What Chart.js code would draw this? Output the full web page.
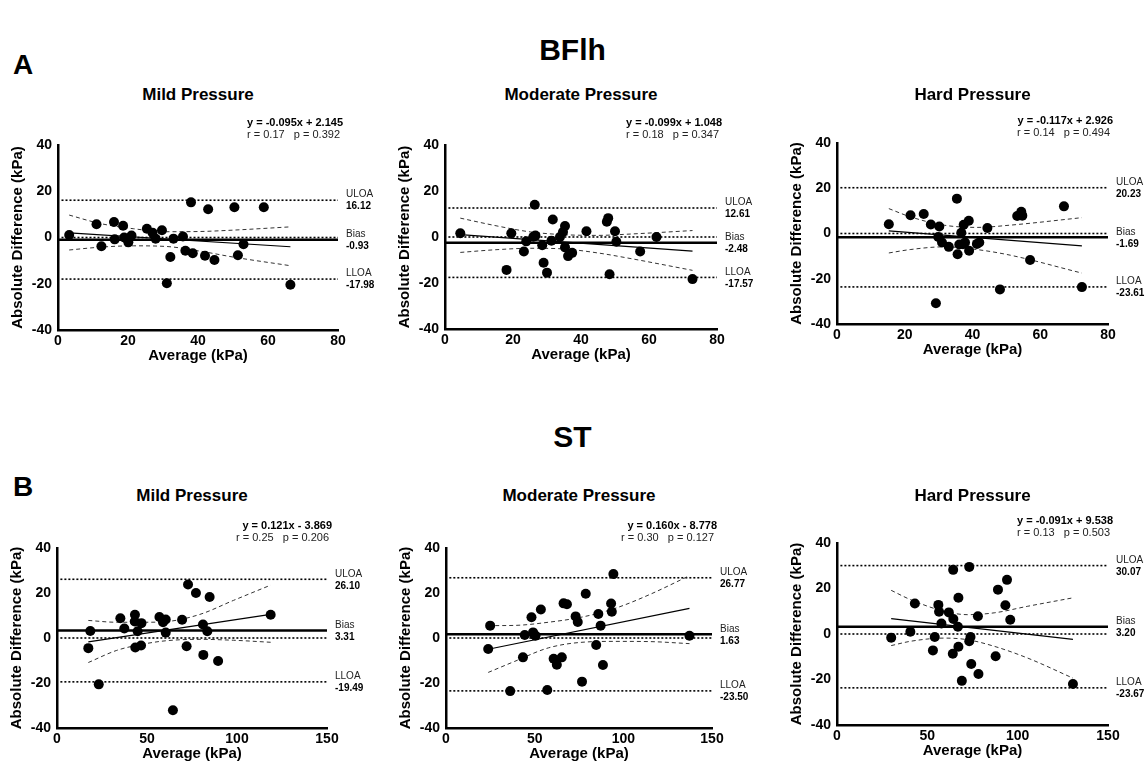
<!DOCTYPE html>
<html>
<head>
<meta charset="utf-8">
<script src="https://cdn.jsdelivr.net/npm/chart.js@4.4.1/dist/chart.umd.min.js"></script>
<style>
  html, body { margin: 0; padding: 0; background: #fff; }
  body { width: 1145px; height: 773px; position: relative; overflow: hidden;
         font-family: 'Liberation Sans', Arial, Helvetica, sans-serif; color: #000; }
  .lbl { position: absolute; font-weight: bold; line-height: 1; white-space: nowrap; }
  canvas { position: absolute; }
</style>
</head>
<body>
<div class="lbl" style="left:0;width:1145px;text-align:center;top:35px;font-size:30px">BFlh</div>
<div class="lbl" style="left:13px;top:51px;font-size:28px">A</div>
<div class="lbl" style="left:0;width:1145px;text-align:center;top:422px;font-size:30px">ST</div>
<div class="lbl" style="left:13px;top:473px;font-size:28px">B</div>
<script>
const FONT = "'Liberation Sans', Arial, Helvetica, sans-serif";

// ---- data ----
const panelTitles = ['Mild Pressure', 'Moderate Pressure', 'Hard Pressure'];
const equations = ['y = -0.095x + 2.145', 'y = -0.099x + 1.048', 'y = -0.117x + 2.926',
                   'y = 0.121x - 3.869', 'y = 0.160x - 8.778', 'y = -0.091x + 9.538'];
const stats = ['r = 0.17   p = 0.392', 'r = 0.18   p = 0.347', 'r = 0.14   p = 0.494',
               'r = 0.25   p = 0.206', 'r = 0.30   p = 0.127', 'r = 0.13   p = 0.503'];
const uloa = [16.12, 12.61, 20.23, 26.10, 26.77, 30.07];
const bias = [-0.93, -2.48, -1.69, 3.31, 1.63, 3.20];
const lloa = [-17.98, -17.57, -23.61, -19.49, -23.50, -23.67];
const xMax = [80, 80, 80, 150, 150, 150];
const xStep = [20, 20, 20, 50, 50, 50];
const yMin = -40, yMax = 40, yStep = 20;

// BFlh - mild
const bflhMildAvg = [3.2, 11.0, 12.4, 16.0, 16.2, 18.6, 18.9, 20.1, 21.0, 25.4, 27.0, 27.9, 29.7, 33.0,
                     32.1, 31.1, 35.7, 36.4, 38.0, 38.5, 42.0, 42.9, 44.7, 50.4, 51.4, 53.0, 58.8, 66.4];
const bflhMildDiff = [1.1, 5.7, -3.8, 6.7, -0.8, 5.1, 0.0, -2.1, 0.9, 3.8, 2.1, -0.5, 3.1, -0.5,
                      -8.4, -19.8, 0.4, -5.7, 15.2, -6.8, -7.9, 12.2, -9.7, 13.1, -7.7, -2.9, 13.1, -20.4];
const bflhMildCiX = [3.2, 11.9, 21.5, 31.1, 40.6, 50.2, 66.4];
const bflhMildCiUp = [9.7, 6.1, 3.8, 2.5, 2.6, 3.2, 4.6];
const bflhMildCiLo = [-5.4, -4.2, -3.6, -3.9, -5.9, -8.5, -12.2];
const bflhMildRegX = [3.2, 66.4];
const bflhMildRegY = [2.0, -4.0];

// BFlh - moderate
const bflhModAvg = [4.5, 19.5, 18.1, 23.9, 23.2, 26.0, 26.6, 26.4, 28.6, 29.0, 30.0, 31.3, 31.7, 33.8,
                    34.7, 35.3, 35.3, 36.2, 37.4, 41.6, 47.6, 48.0, 48.4, 50.0, 50.4, 57.4, 62.2, 72.8];
const bflhModDiff = [1.6, 1.6, -14.3, -1.9, -6.3, 0.1, 0.6, 14.0, -3.6, -11.2, -15.5, -1.6, 7.6, 0.0,
                     2.2, 4.8, -4.5, -8.3, -6.9, 2.5, 6.6, 8.2, -16.2, 2.5, -2.1, -6.3, 0.0, -18.3];
const bflhModCiX = [4.5, 15.3, 25.2, 35.0, 44.8, 54.7, 72.8];
const bflhModCiUp = [8.2, 4.8, 2.2, 1.0, 0.7, 1.3, 2.8];
const bflhModCiLo = [-6.7, -5.5, -4.9, -5.2, -6.9, -9.4, -14.5];
const bflhModRegX = [4.5, 72.8];
const bflhModRegY = [1.0, -6.1];

// BFlh - hard
const bflhHardAvg = [15.3, 21.7, 25.6, 27.7, 30.2, 29.9, 29.2, 31.0, 33.0, 35.4, 35.6, 36.1, 36.7, 37.2,
                     37.4, 37.8, 38.9, 39.0, 41.3, 42.0, 44.4, 48.1, 53.2, 54.4, 54.7, 57.0, 67.0, 72.3];
const bflhHardDiff = [4.1, 8.1, 8.6, 4.0, 3.1, -1.5, -30.8, -4.0, -5.9, 15.4, -9.2, -4.9, 0.3, -4.7,
                      3.9, -4.0, 5.6, -7.6, -4.6, -4.0, 2.4, -24.7, 7.7, 9.6, 7.9, -11.7, 12.0, -23.7];
const bflhHardCiX = [15.3, 21.6, 31.5, 41.3, 51.2, 72.3];
const bflhHardCiUp = [11.0, 7.4, 3.7, 2.7, 3.7, 7.0];
const bflhHardCiLo = [-8.6, -7.1, -5.9, -7.1, -9.6, -17.5];
const bflhHardRegX = [15.3, 72.3];
const bflhHardRegY = [1.2, -5.5];

// ST - mild
const stMildAvg = [17.4, 18.5, 23.2, 35.2, 37.4, 43.3, 43.2, 43.5, 44.8, 46.9, 46.7, 56.9, 58.9,
                   60.4, 60.4, 64.4, 69.5, 72.0, 72.8, 77.2, 81.1, 81.3, 83.5, 84.8, 89.5, 118.7];
const stMildDiff = [-4.5, 3.1, -20.6, 8.8, 4.2, 10.3, 7.3, -4.2, 3.0, 6.6, -3.3, 9.3, 7.0,
                    8.2, 2.4, -32.1, 8.1, -3.7, 23.8, 20.0, 6.0, -7.5, 3.0, 18.2, -10.2, 10.3];
const stMildCiX = [17.4, 33.2, 48.0, 60.9, 79.4, 98.0, 118.7];
const stMildCiUp = [7.8, 7.0, 7.0, 7.3, 10.5, 16.7, 23.5];
const stMildCiLo = [-10.9, -5.5, -2.7, -1.2, -0.6, -1.0, -1.9];
const stMildRegX = [17.4, 118.7];
const stMildRegY = [-1.7, 10.5];

// ST - moderate
const stModAvg = [23.8, 24.9, 36.2, 43.4, 44.4, 48.2, 49.1, 49.7, 50.5, 53.5, 57.1, 60.7, 62.5, 65.3,
                  66.3, 68.2, 73.1, 74.3, 76.7, 78.8, 84.7, 85.9, 87.2, 88.5, 93.1, 93.5, 94.4, 137.3];
const stModDiff = [-4.9, 5.5, -23.6, -8.6, 1.3, 9.2, 2.5, 1.5, 1.0, 12.7, -23.1, -9.2, -11.9, -8.6,
                   15.4, 15.0, 9.6, 7.1, -19.4, 19.7, -3.1, 10.7, 5.5, -12.0, 15.3, 11.7, 28.4, 1.0];
const stModCiX = [23.8, 38.7, 57.7, 76.7, 95.8, 114.8, 137.3];
const stModCiUp = [5.5, 5.6, 7.0, 9.3, 13.3, 19.3, 27.7];
const stModCiLo = [-15.3, -10.4, -4.4, -1.9, -1.5, -1.6, -2.5];
const stModRegX = [23.8, 137.3];
const stModRegY = [-5.0, 13.2];

// ST - hard
const stHardAvg = [30.0, 40.6, 43.1, 53.1, 54.1, 56.1, 56.5, 57.8, 61.9, 64.1, 64.3, 64.4, 66.9, 67.2,
                   67.2, 69.1, 73.2, 73.2, 73.9, 74.3, 78.0, 78.3, 87.8, 89.1, 93.2, 94.1, 95.9, 130.6];
const stHardDiff = [-1.6, 1.0, 13.4, -7.2, -1.3, 12.8, 9.8, 4.6, 9.5, -8.7, 28.2, 6.6, 3.2, -5.6,
                    15.9, -20.6, 29.5, -3.2, -1.3, -13.2, 7.8, -17.6, -9.8, 19.5, 12.6, 23.8, 6.3, -22.0];
const stHardCiX = [30.0, 40.7, 59.3, 72.2, 87.0, 105.6, 130.6];
const stHardCiUp = [19.2, 15.1, 10.0, 8.5, 9.3, 12.2, 15.9];
const stHardCiLo = [-5.1, -3.2, -1.8, -2.5, -5.4, -10.6, -19.4];
const stHardRegX = [30.0, 130.6];
const stHardRegY = [6.8, -2.4];

// ---- layout: plot area of each panel on the page ----
const boxes = [
  { left: 58,  right: 338,  top: 145, bottom: 330 },
  { left: 445, right: 717,  top: 145, bottom: 329 },
  { left: 837, right: 1108, top: 143, bottom: 324 },
  { left: 57,  right: 327,  top: 548, bottom: 728 },
  { left: 446, right: 712,  top: 548, bottom: 728 },
  { left: 837, right: 1108, top: 543, bottom: 725 },
];

const panels = [
  [bflhMildAvg, bflhMildDiff, bflhMildCiX, bflhMildCiUp, bflhMildCiLo, bflhMildRegX, bflhMildRegY],
  [bflhModAvg, bflhModDiff, bflhModCiX, bflhModCiUp, bflhModCiLo, bflhModRegX, bflhModRegY],
  [bflhHardAvg, bflhHardDiff, bflhHardCiX, bflhHardCiUp, bflhHardCiLo, bflhHardRegX, bflhHardRegY],
  [stMildAvg, stMildDiff, stMildCiX, stMildCiUp, stMildCiLo, stMildRegX, stMildRegY],
  [stModAvg, stModDiff, stModCiX, stModCiUp, stModCiLo, stModRegX, stModRegY],
  [stHardAvg, stHardDiff, stHardCiX, stHardCiUp, stHardCiLo, stHardRegX, stHardRegY],
];

const zip = (xs, ys) => xs.map((x, k) => ({ x, y: ys[k] }));
const hline = (v, x0, x1) => [{ x: x0, y: v }, { x: x1, y: v }];

// equation + limit labels, placed from the chart's own scales
const annotate = {
  id: 'annotate',
  afterDatasetsDraw(chart, args, opts) {
    const { ctx, chartArea, scales: { y } } = chart;
    const i = opts.index;
    ctx.save();
    ctx.fillStyle = '#000';
    ctx.textBaseline = 'middle';
    ctx.textAlign = 'right';
    ctx.font = 'bold 11px ' + FONT;
    ctx.fillText(equations[i], chartArea.right + 5, chartArea.top - 22);
    ctx.font = '11px ' + FONT;
    ctx.fillStyle = '#222';
    ctx.fillText(stats[i], chartArea.right + 2, chartArea.top - 10);

    ctx.textAlign = 'left';
    const lx = chartArea.right + 8;
    [['ULOA', uloa[i]], ['Bias', bias[i]], ['LLOA', lloa[i]]].forEach(([name, v]) => {
      const py = y.getPixelForValue(v);
      ctx.fillStyle = '#222';
      ctx.font = '10px ' + FONT;
      ctx.fillText(name, lx, py - 5.5);
      ctx.fillStyle = '#000';
      ctx.font = 'bold 10px ' + FONT;
      ctx.fillText(v.toFixed(2), lx, py + 6.5);
    });
    ctx.restore();
  }
};

panels.forEach(([avg, diff, ciX, ciUp, ciLo, regX, regY], i) => {
  const box = boxes[i];
  const cLeft = box.left - 58, cTop = box.top - 40;
  const cRight = Math.min(box.right + 40, 1145);
  const w = cRight - cLeft, h = box.bottom + 40 - cTop;

  const canvas = document.createElement('canvas');
  canvas.width = w; canvas.height = h;
  canvas.style.left = cLeft + 'px'; canvas.style.top = cTop + 'px';
  canvas.style.width = w + 'px'; canvas.style.height = h + 'px';
  document.body.appendChild(canvas);

  const t = document.createElement('div');
  t.className = 'lbl';
  t.textContent = panelTitles[i % 3];
  t.style.fontSize = '17px';
  t.style.left = box.left + 'px';
  t.style.width = (box.right - box.left) + 'px';
  t.style.textAlign = 'center';
  t.style.top = (i < 3 ? 86 : 487) + 'px';
  document.body.appendChild(t);

  const line = (data, extra) => Object.assign({
    data, showLine: true, pointRadius: 0, fill: false,
    borderColor: '#000', borderWidth: 1, tension: 0
  }, extra);

  new Chart(canvas, {
    type: 'scatter',
    data: {
      datasets: [
        { data: zip(avg, diff), pointRadius: 5, pointBackgroundColor: '#000',
          pointBorderWidth: 0, showLine: false },
        line(zip(regX, regY), { borderWidth: 1.2 }),
        line(zip(ciX, ciUp), { borderDash: [4, 3], borderColor: '#333', cubicInterpolationMode: 'monotone' }),
        line(zip(ciX, ciLo), { borderDash: [4, 3], borderColor: '#333', cubicInterpolationMode: 'monotone' }),
        line(hline(bias[i], 0, xMax[i]), { borderWidth: 2.5 }),
        line(hline(0, xMax[i] / 80, xMax[i]), { borderWidth: 1.6, borderDash: [2, 2] }),
        line(hline(uloa[i], xMax[i] / 80, xMax[i]), { borderWidth: 1.6, borderDash: [2, 2] }),
        line(hline(lloa[i], xMax[i] / 80, xMax[i]), { borderWidth: 1.6, borderDash: [2, 2] }),
      ]
    },
    options: {
      responsive: false,
      animation: false,
      devicePixelRatio: 1,
      layout: { padding: { left: 0, top: 40, right: cRight - box.right, bottom: 0 } },
      plugins: {
        legend: { display: false },
        tooltip: { enabled: false },
        annotate: { index: i }
      },
      scales: {
        x: {
          type: 'linear', min: 0, max: xMax[i],
          afterFit: (s) => { s.height = 40; },
          grid: { display: false, drawTicks: false },
          border: { display: true, color: '#000', width: 2.5 },
          ticks: { stepSize: xStep[i], padding: 3, color: '#000',
                   font: { family: FONT, size: 14, weight: 'bold' } },
          title: { display: true, text: 'Average (kPa)', color: '#000',
                   font: { family: FONT, size: 15, weight: 'bold' }, padding: { top: 0, bottom: 5 } }
        },
        y: {
          type: 'linear', min: yMin, max: yMax,
          afterFit: (s) => { s.width = 58; },
          grid: { display: false, drawTicks: false },
          border: { display: true, color: '#000', width: 2.5 },
          ticks: { stepSize: yStep, padding: 6, color: '#000',
                   font: { family: FONT, size: 14, weight: 'bold' } },
          title: { display: true, text: 'Absolute Difference (kPa)', color: '#000',
                   font: { family: FONT, size: 15, weight: 'bold' }, padding: { top: 9, bottom: 0 } }
        }
      }
    },
    plugins: [annotate]
  });
});
</script>
</body>
</html>
